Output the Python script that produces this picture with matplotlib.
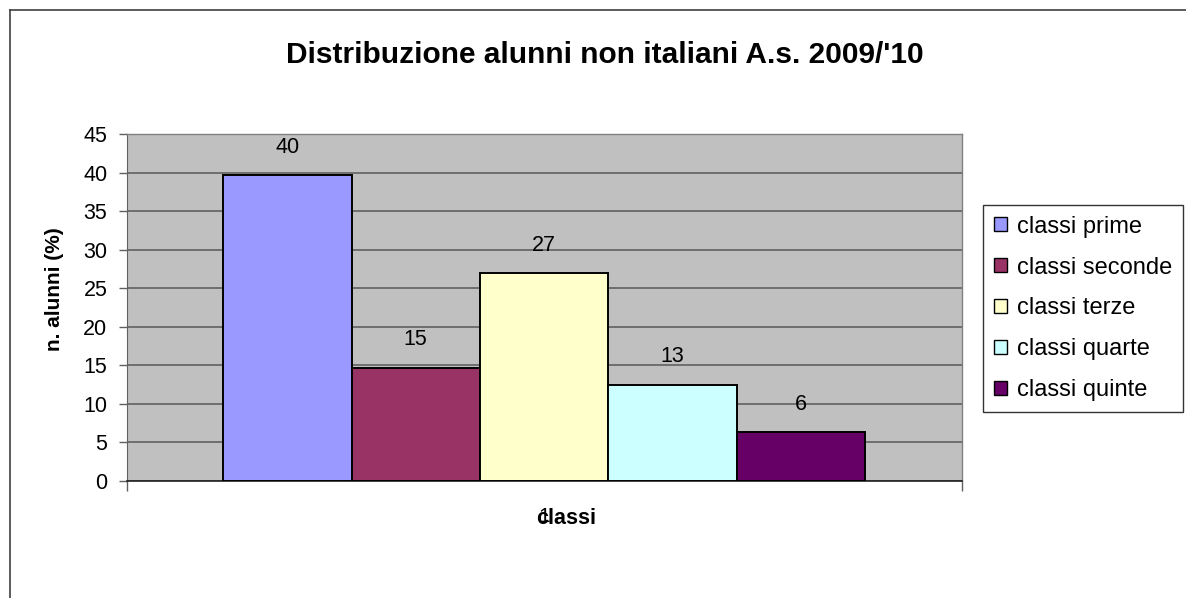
import matplotlib
matplotlib.use("Agg")
import matplotlib.pyplot as plt
from matplotlib.lines import Line2D
from matplotlib.patches import Patch

series = ["classi prime", "classi seconde", "classi terze", "classi quarte", "classi quinte"]
values = [39.7, 14.7, 27.0, 12.5, 6.3]
labels = ["40", "15", "27", "13", "6"]
colors = ["#9999FF", "#993366", "#FFFFCC", "#CCFFFF", "#660066"]
category = ["1"]
yticks = [0, 5, 10, 15, 20, 25, 30, 35, 40, 45]

W, H = 1186, 598
fig = plt.figure(figsize=(W / 100, H / 100), dpi=100)
plt.rcParams['font.family'] = ['Liberation Sans', 'DejaVu Sans']

# figure border (left + top visible)
fig.add_artist(Line2D([10 / W, 10 / W], [0, 1 - 10 / H], transform=fig.transFigure, color="#404040", lw=1.2))
fig.add_artist(Line2D([10 / W, 1], [1 - 10 / H, 1 - 10 / H], transform=fig.transFigure, color="#404040", lw=1.2))

ax = fig.add_axes([126.7 / W, 1 - 481 / H, (961.7 - 126.7) / W, (481 - 134) / H])
ax.set_facecolor("#C0C0C0")

n = len(values)
positions = [i - (n - 1) / 2 for i in range(n)]
bars = ax.bar(positions, values, width=1.0, color=colors, edgecolor="black", linewidth=1.4, zorder=3)
for b, lab in zip(bars, labels):
    ax.annotate(lab, (b.get_x() + b.get_width() / 2, b.get_height()), xytext=(0, 20),
                textcoords="offset points", ha="center", va="center", fontsize=15.5, zorder=4)

ax.set_xlim(-n / 2 - 0.75, n / 2 + 0.75)
ax.set_ylim(0, 45)
ax.set_yticks(yticks)
ax.yaxis.grid(True, color="#606060", linewidth=1.2, zorder=1)
ax.set_axisbelow(True)
ax.tick_params(axis="y", direction="out", length=6, width=1, color="#606060", pad=8, labelsize=15.5)

ax.set_xticks([0])
ax.set_xticklabels(category, fontsize=15)
ax.tick_params(axis="x", which="major", length=0, pad=19)
ax.set_xticks([-n / 2 - 0.75, n / 2 + 0.75], minor=True)
ax.tick_params(axis="x", which="minor", direction="out", length=7, width=1, color="#606060")

for s in ["top", "right"]:
    ax.spines[s].set_color("#808080")
    ax.spines[s].set_linewidth(1)
ax.spines["left"].set_color("#606060")
ax.spines["bottom"].set_color("#202020")
ax.spines["bottom"].set_linewidth(1.2)

fig.text(54 / W, 1 - 289 / H, "n. alunni (%)", rotation=90, ha="center", va="center",
         fontsize=15, fontweight="bold")
fig.text(566 / W, 1 - 518 / H, "classi", ha="center", va="center", fontsize=15.5, fontweight="bold")
fig.text(605 / W, 1 - 55 / H, "Distribuzione alunni non italiani A.s. 2009/'10", ha="center", va="center",
         fontsize=21.5, fontweight="bold")

handles = [Patch(facecolor=c, edgecolor="black", linewidth=1) for c in colors]
leg = fig.legend(handles, series, loc="upper left", bbox_to_anchor=(983 / W, 1 - 205 / H),
                 bbox_transform=fig.transFigure, borderaxespad=0, fontsize=17, frameon=True,
                 fancybox=False, handlelength=0.55, handleheight=0.55, handletextpad=0.45,
                 labelspacing=0.8, borderpad=0.45)
leg.get_frame().set_edgecolor("black")
leg.get_frame().set_linewidth(1)

fig.savefig("out.png", dpi=100)
